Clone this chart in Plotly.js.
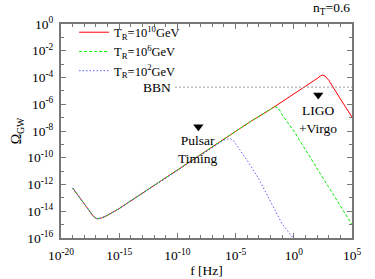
<!DOCTYPE html>
<html>
<head>
<meta charset="utf-8">
<script src="https://cdn.plot.ly/plotly-3.0.1.min.js"></script>
<style>html,body{margin:0;padding:0;background:#fff;}#chart{width:375px;height:279px;}</style>
</head>
<body>
<div id="chart"></div>
<script>
// log10 of frequency [Hz] and log10 of Omega_GW
const commonLogF = [-19, -18, -17.5, -17.2, -16.9, -16.5, -16, -15, -14, -12, -10, -8, -6.5];
const commonLogO = [-12.26, -13.45, -14.05, -14.4, -14.57, -14.5, -14.3, -13.8, -13.22, -12.08, -10.95, -9.82, -8.9];

const redLogF = [-5, -3.5, -2, 0, 1, 2, 2.3, 2.5, 2.7, 3, 4, 5];
const redLogO = [-8.03, -7.17, -6.38, -5.25, -4.67, -4.08, -3.88, -3.82, -3.9, -4.2, -5.6, -6.96];

const greenLogF = [-5, -3.5, -2, -1.8, -1.6, -1.4, -1.2, -1, -0.5, 0, 1, 2, 3, 4, 5];
const greenLogO = [-8.03, -7.17, -6.38, -6.24, -6.18, -6.25, -6.48, -6.8, -7.4, -8.0, -9.4, -10.8, -12.2, -13.6, -15.0];

const blueLogF = [-6, -5.7, -5.45, -5.2, -5, -4.5, -4, -3, -2, -1, -0.05];
const blueLogO = [-8.68, -8.6, -8.58, -8.7, -8.95, -9.55, -10.2, -11.6, -13.25, -14.95, -16];

const bbnLogF = [-10.2, 5];
const bbnLogO = [-4.72, -4.72];

const detectorNames = ["Pulsar<br>Timing", "LIGO<br>+Virgo"];
const detectorLogF = [-8.2, 2.1];
const detectorLogO = [-7.68, -5.3];

const legendNames = ["T<sub>R</sub>=10<sup>10</sup>GeV", "T<sub>R</sub>=10<sup>6</sup>GeV", "T<sub>R</sub>=10<sup>2</sup>GeV"];

const xTickExp = [-20, -15, -10, -5, 0, 5];
const yTickExp = [0, -2, -4, -6, -8, -10, -12, -14, -16];

const p = v => Math.pow(10, v);
const fullF = a => commonLogF.concat(a).map(p);
const fullO = a => commonLogO.concat(a).map(p);

const FONT = "Liberation Serif, Times New Roman, serif";
const FS = 13.5;
const AX = "#777";

const traces = [
  {x: fullF(redLogF), y: fullO(redLogO), mode: "lines", name: legendNames[0],
   line: {color: "#ff0000", width: 1}},
  {x: fullF(greenLogF), y: fullO(greenLogO), mode: "lines", name: legendNames[1],
   line: {color: "#00ee00", width: 1, dash: "3px,2px"}},
  {x: fullF(blueLogF), y: fullO(blueLogO), mode: "lines", name: legendNames[2],
   line: {color: "#5a5aff", width: 1, dash: "1.5px,2px"}},
  {x: bbnLogF.map(p), y: bbnLogO.map(p), mode: "lines", showlegend: false,
   line: {color: "#999", width: 1, dash: "2px,2px"}, hoverinfo: "skip"},
  {x: detectorLogF.map(p), y: detectorLogO.map(p), mode: "markers", showlegend: false,
   marker: {symbol: "triangle-down", size: 9, color: "#000"}}
];

const minorX = [];
for (let e = -20; e <= 5; e++) minorX.push(p(e));
const minorY = [];
for (let e = -16; e <= 0; e++) minorY.push(p(e));

const annotations = [
  {text: "n<sub>T</sub>=0.6", xref: "paper", yref: "paper", x: 1, y: 1.025,
   xanchor: "right", yanchor: "bottom", showarrow: false, font: {size: FS, family: FONT, color: "#000"}},
  {text: "BBN", x: bbnLogF[0] - 0.15, y: bbnLogO[0], xanchor: "right", yanchor: "middle",
   showarrow: false, font: {size: FS, family: FONT, color: "#000"}},
  {text: detectorNames[0], x: detectorLogF[0], y: detectorLogO[0] - 0.35, xanchor: "center", yanchor: "top",
   showarrow: false, font: {size: FS, family: FONT, color: "#000"}},
  {text: detectorNames[1], x: detectorLogF[1], y: detectorLogO[1] - 0.45, xanchor: "center", yanchor: "top",
   showarrow: false, font: {size: FS, family: FONT, color: "#000"}}
];

const layout = {
  width: 375, height: 279,
  margin: {l: 61, r: 23, t: 24, b: 41, pad: 0},
  paper_bgcolor: "#fff", plot_bgcolor: "#fff",
  font: {family: FONT, size: FS, color: "#000"},
  showlegend: true,
  legend: {x: 0.045, y: 1.03, xanchor: "left", yanchor: "top", bgcolor: "rgba(0,0,0,0)",
           font: {size: 12.5, family: FONT}, tracegroupgap: 0, itemwidth: 30},
  xaxis: {type: "log", range: [-20, 5], showgrid: false, zeroline: false,
          showline: true, linecolor: AX, linewidth: 2, mirror: "ticks",
          ticks: "inside", ticklen: 5, tickcolor: AX, tickwidth: 1,
          tickmode: "array", tickvals: xTickExp.map(p),
          ticktext: xTickExp.map(e => "10<sup>" + e + "</sup>"),
          tickfont: {size: FS, family: FONT}, ticklabelstandoff: 4,
          minor: {tickmode: "array", tickvals: minorX, ticks: "inside", ticklen: 3, tickcolor: AX, showgrid: false},
          title: {text: "f [Hz]", font: {size: FS, family: FONT}, standoff: 3}},
  yaxis: {type: "log", range: [-16, 0], showgrid: false, zeroline: false,
          showline: true, linecolor: AX, linewidth: 2, mirror: "ticks",
          ticks: "inside", ticklen: 5, tickcolor: AX, tickwidth: 1,
          tickmode: "array", tickvals: yTickExp.map(p),
          ticktext: yTickExp.map(e => "10<sup>" + e + "</sup>"),
          tickfont: {size: FS, family: FONT}, ticklabelstandoff: 3,
          minor: {tickmode: "array", tickvals: minorY, ticks: "inside", ticklen: 3, tickcolor: AX, showgrid: false},
          title: {text: "Ω<sub>GW</sub>", font: {size: 14, family: FONT}, standoff: 2}},
  annotations: annotations
};

Plotly.newPlot("chart", traces, layout, {staticPlot: true, displayModeBar: false});
</script>
</body>
</html>
